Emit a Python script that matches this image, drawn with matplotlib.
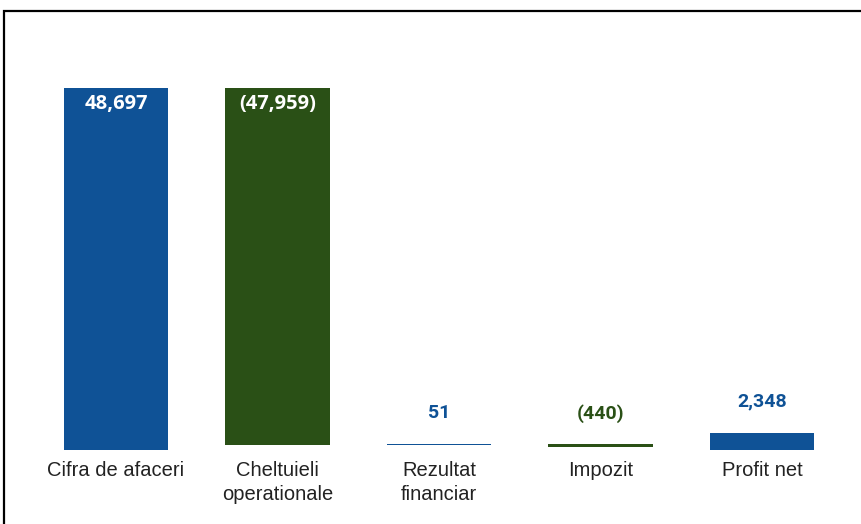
import matplotlib.pyplot as plt
from matplotlib.patches import Rectangle

categories = ['Cifra de afaceri', 'Cheltuieli\noperationale', 'Rezultat\nfinanciar', 'Impozit', 'Profit net']
values = [48697, -47959, 51, -440, 2348]
is_total = [False, False, False, False, True]
labels = ['48,697', '(47,959)', '51', '(440)', '2,348']

BLUE = '#0F5296'
GREEN = '#2A5016'


def waterfall_bars(values, is_total):
    bottoms, heights = [], []
    running = 0
    for v, tot in zip(values, is_total):
        if tot:
            bottoms.append(0)
            heights.append(v)
            running = v
        else:
            bottoms.append(running if v >= 0 else running + v)
            heights.append(abs(v))
            running += v
    return bottoms, heights


def main():
    fig = plt.figure(figsize=(8.61, 5.24), dpi=100)
    ax = fig.add_axes([35.25 / 861, 74 / 524, 807.5 / 861, 410 / 524])

    bottoms, heights = waterfall_bars(values, is_total)
    colors = [BLUE if v >= 0 else GREEN for v in values]
    x = list(range(len(categories)))
    ax.bar(x, heights, bottom=bottoms, width=0.645, color=colors, linewidth=0)

    scale = 48697 / (450 - 88)  # data units per pixel
    ax.set_xlim(-0.5, len(categories) - 0.5)
    ax.set_ylim(0, 410 * scale)

    for i, (b, h, lab, col) in enumerate(zip(bottoms, heights, labels, colors)):
        top = b + h
        if h > 10000:
            ax.text(i, top - 16 * scale, lab, ha='center', va='center', color='white',
                    fontsize=14.5, fontweight='bold', family='Open Sans')
        else:
            ax.text(i, top + 31 * scale, lab, ha='center', va='center', color=col,
                    fontsize=14, fontweight='bold', family='Roboto')

    ax.set_xticks(x)
    ax.set_xticklabels(categories, fontsize=14.5, family='Liberation Sans', color='#222222',
                       linespacing=1.3)
    ax.tick_params(axis='x', length=0, pad=8)
    ax.set_yticks([])
    for s in ax.spines.values():
        s.set_visible(False)

    fig.patches.append(Rectangle((4 / 861, -0.1), 1.2, (524 - 11) / 524 + 0.1,
                                 transform=fig.transFigure, fill=False,
                                 edgecolor='black', linewidth=1.6))

    fig.savefig('out.png', dpi=100)


if __name__ == "__main__":
    main()
